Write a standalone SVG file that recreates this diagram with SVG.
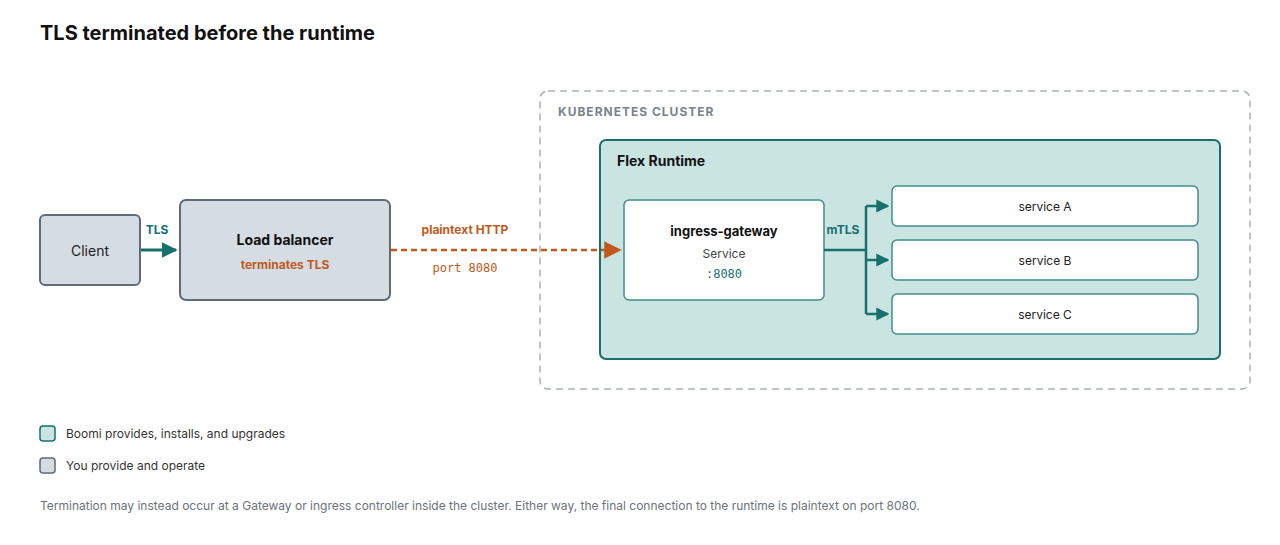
<svg xmlns="http://www.w3.org/2000/svg" width="1280" height="545" viewBox="0 0 1280 545">
<style>
text{font-family:Inter,"Liberation Sans",sans-serif}
.mono{font-family:"DejaVu Sans Mono","Liberation Mono",monospace}
.you{fill:#d6dce4;stroke:#5f6b77;stroke-width:2}
.svc{fill:#fff;stroke:#3f8f8c;stroke-width:1.5}
.teal{stroke:#17706e;stroke-width:2.5;fill:none}
</style>
<defs>
<marker id="at" viewBox="0 0 10 10" refX="9" refY="5" markerWidth="13" markerHeight="14" markerUnits="userSpaceOnUse" orient="auto"><path d="M0,0L10,5L0,10z" fill="#17706e"/></marker>
<marker id="atb" viewBox="0 0 10 10" refX="9" refY="5" markerWidth="16" markerHeight="16" orient="auto" markerUnits="userSpaceOnUse"><path d="M0,0L10,5L0,10z" fill="#17706e"/></marker>
<marker id="ao" viewBox="0 0 10 10" refX="9" refY="5" markerWidth="7" markerHeight="7" orient="auto" markerUnits="strokeWidth"><path d="M0,0L10,5L0,10z" fill="#bf5a1c"/></marker>
</defs>
<rect width="1280" height="545" fill="#fff"/>
<text x="40" y="40" font-size="20" font-weight="700" fill="#111">TLS terminated before the runtime</text>
<g id="cluster">
<rect x="540" y="91" width="710" height="298" rx="8" fill="none" stroke="#a9b1b9" stroke-width="1.5" stroke-dasharray="7,5"/>
<text x="558" y="116" font-size="12" font-weight="700" fill="#7a838c" letter-spacing="1">KUBERNETES CLUSTER</text>
</g>
<g id="flex">
<rect x="600" y="140" width="620" height="219" rx="6" fill="#cae4e2" stroke="#17706e" stroke-width="2"/>
<text x="617" y="166" font-size="14" font-weight="700" fill="#111">Flex Runtime</text>
</g>
<g id="client"><rect x="40" y="215" width="100" height="70" rx="5" class="you"/><text x="90" y="256" font-size="14" text-anchor="middle" fill="#222">Client</text></g>
<g id="lb"><rect x="180" y="200" width="210" height="100" rx="6" class="you"/><text x="285" y="245" font-size="14" font-weight="700" text-anchor="middle" fill="#111">Load balancer</text><text x="285" y="269" font-size="12" font-weight="700" text-anchor="middle" fill="#bf5a1c">terminates TLS</text></g>
<g id="gw"><rect x="624" y="200" width="200" height="100" rx="5" class="svc"/><text x="724" y="236" font-size="13" font-weight="700" text-anchor="middle" fill="#111">ingress-gateway</text><text x="724" y="258" font-size="12" text-anchor="middle" fill="#444">Service</text><text x="724" y="278" font-size="12" class="mono" text-anchor="middle" fill="#17706e">:8080</text></g>
<g id="sa"><rect x="892" y="186" width="306" height="40" rx="5" class="svc"/><text x="1045" y="211" font-size="12" text-anchor="middle" fill="#222">service A</text></g>
<g id="sb"><rect x="892" y="240" width="306" height="40" rx="5" class="svc"/><text x="1045" y="265" font-size="12" text-anchor="middle" fill="#222">service B</text></g>
<g id="sc"><rect x="892" y="294" width="306" height="40" rx="5" class="svc"/><text x="1045" y="319" font-size="12" text-anchor="middle" fill="#222">service C</text></g>
<g id="connectors">
<line x1="141" y1="250" x2="176" y2="250" stroke="#17706e" stroke-width="3" marker-end="url(#atb)"/>
<line x1="391" y1="250" x2="620" y2="250" stroke="#bf5a1c" stroke-width="2.5" stroke-dasharray="6,4" marker-end="url(#ao)"/>
<path d="M824,250H866M866,206V314" class="teal"/>
<path d="M866,206H888" class="teal" marker-end="url(#at)"/>
<path d="M866,260H888" class="teal" marker-end="url(#at)"/>
<path d="M866,314H888" class="teal" marker-end="url(#at)"/>
<text x="157" y="234" font-size="12" font-weight="700" text-anchor="middle" fill="#17706e">TLS</text>
<text x="465" y="234" font-size="12" font-weight="700" text-anchor="middle" fill="#bf5a1c">plaintext HTTP</text>
<text x="465" y="272" font-size="12" class="mono" text-anchor="middle" fill="#bf5a1c">port 8080</text>
<text x="843" y="234" font-size="12" font-weight="700" text-anchor="middle" fill="#17706e">mTLS</text>
</g>
<g id="legend">
<rect x="40" y="426" width="15" height="15" rx="3" fill="#cae4e2" stroke="#17706e" stroke-width="1.5"/>
<text x="66" y="438" font-size="12" fill="#333">Boomi provides, installs, and upgrades</text>
<rect x="40" y="458" width="15" height="15" rx="3" fill="#d6dce4" stroke="#5f6b77" stroke-width="1.5"/>
<text x="66" y="470" font-size="12" fill="#333">You provide and operate</text>
</g>
<text x="40" y="510" font-size="12" fill="#6b737b">Termination may instead occur at a Gateway or ingress controller inside the cluster. Either way, the final connection to the runtime is plaintext on port 8080.</text>
</svg>
